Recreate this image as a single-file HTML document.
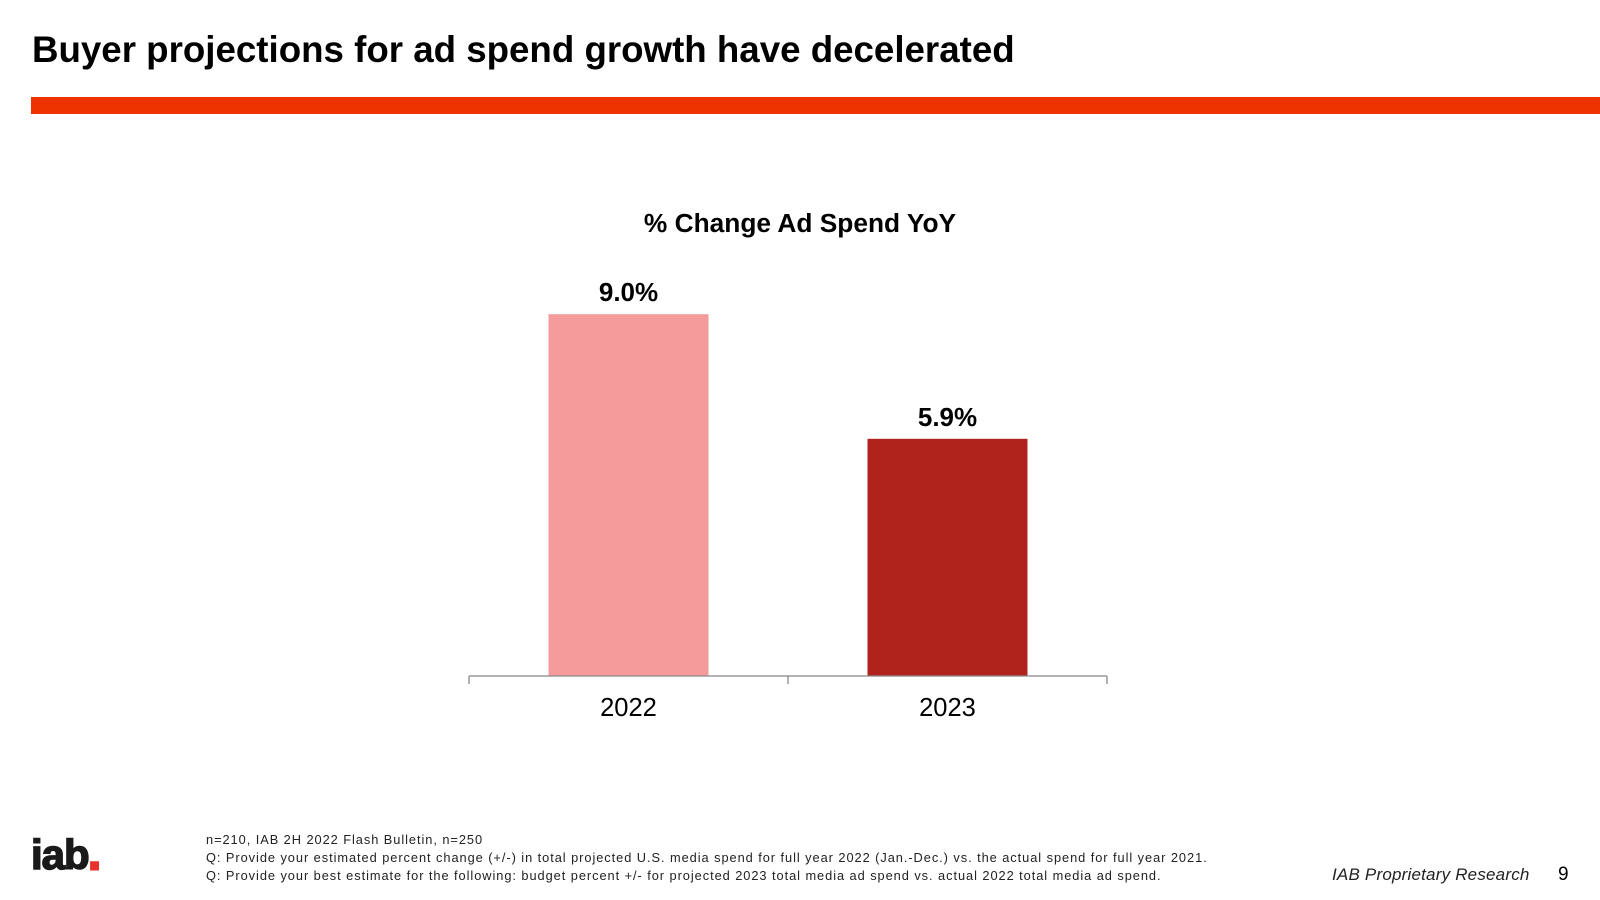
<!DOCTYPE html>
<html><head><meta charset="utf-8"><style>
body{margin:0;width:1600px;height:900px;background:#fff;position:relative;overflow:hidden;font-family:"Liberation Sans",Arial,sans-serif;color:#000}
.abs{position:absolute;white-space:nowrap}
</style></head><body>
<div class="abs" style="left:32px;top:29px;font-size:36.7px;font-weight:bold">Buyer projections for ad spend growth have decelerated</div>
<div class="abs" style="left:31px;top:97px;width:1569px;height:17px;background:#EE3300"></div>
<svg class="abs" style="left:0;top:0" width="1600" height="800">
<text x="800" y="232" text-anchor="middle" font-size="26.3" font-weight="bold" font-family="Liberation Sans, sans-serif">% Change Ad Spend YoY</text>
<g id="bars"></g>
</svg>
<div class="abs" style="left:206px;top:831px;font-size:12.8px;line-height:18px;color:#222;letter-spacing:0.95px">n=210, IAB 2H 2022 Flash Bulletin, n=250<br>Q: Provide your estimated percent change (+/-) in total projected U.S. media spend for full year 2022 (Jan.-Dec.) vs. the actual spend for full year 2021.<br>Q: Provide your best estimate for the following: budget percent +/- for projected 2023 total media ad spend vs. actual 2022 total media ad spend.</div>
<div class="abs" style="left:31px;top:832px;font-size:42px;font-weight:bold;letter-spacing:-1px;color:#1a1a1a;line-height:46px;-webkit-text-stroke:1.5px #1a1a1a">iab<span style="color:#E8322B;-webkit-text-stroke:3px #E8322B">.</span></div>
<div class="abs" style="left:1332px;top:865px;font-size:17px;font-style:italic;color:#222;letter-spacing:0.2px">IAB Proprietary Research</div>
<div class="abs" style="left:1558px;top:864px;font-size:19px">9</div>
<script>
const categories=["2022","2023"];
const values=[9.0,5.9];
const valueLabels=["9.0%","5.9%"];
const colors=["#F59B9B","#B0231C"];
const NS="http://www.w3.org/2000/svg";
const g=document.getElementById('bars');
const x0=469,x1=1107,baseY=676,unit=40.2;
const band=(x1-x0)/categories.length,barW=160;
function xC(i){return x0+band*(i+0.5);}
function yV(v){return baseY-v*unit;}
function mk(t,a){const e=document.createElementNS(NS,t);for(const k in a)e.setAttribute(k,a[k]);g.appendChild(e);return e;}
categories.forEach((c,i)=>{
 const r=mk('rect',{x:xC(i)-barW/2,y:yV(values[i]),width:barW,height:baseY-yV(values[i]),fill:colors[i]});
 
 
 const t=mk('text',{x:xC(i),y:yV(values[i])-13,'text-anchor':'middle','font-size':26,'font-weight':'bold','font-family':'Liberation Sans, sans-serif'});
 t.textContent=valueLabels[i];
 
 
 const l=mk('text',{x:xC(i),y:baseY+40,'text-anchor':'middle','font-size':25.5,'font-family':'Liberation Sans, sans-serif'});
 l.textContent=c;
 
 
});
const ax=mk('line',{x1:x0,x2:x1,y1:baseY,y2:baseY,stroke:'#888','stroke-width':1.3});


for(let i=0;i<=categories.length;i++){
 const tk=mk('line',{x1:x0+band*i,x2:x0+band*i,y1:baseY,y2:baseY+8,stroke:'#888','stroke-width':1.3});
 
 
}
</script>
</body></html>
